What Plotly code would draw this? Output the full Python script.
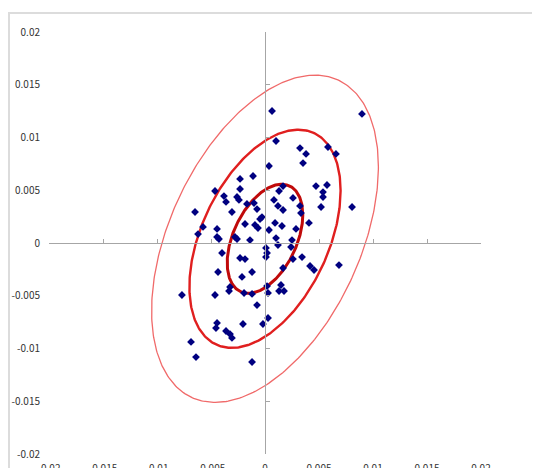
import numpy as np
import plotly.graph_objects as go

# ---- data ----
x_vals = [0.00065, 0.00898, 0.00102, 0.00324, 0.00380, 0.00583, 0.00657, 0.00352, 0.00037, -0.00111,
          -0.00231, -0.00231, -0.00463, -0.00380, -0.00259, -0.00241, -0.00361, -0.00167, -0.00102, -0.00074,
          -0.00648, -0.00306, -0.00028, -0.00046, -0.00185, -0.00093, -0.00065, -0.00574, -0.00444, -0.00620,
          -0.00444, -0.00426, -0.00278, -0.00259, -0.00139, 0.00037, -0.00398, -0.00231, -0.00185, 0.00009,
          0.00019, 0.00009, -0.00435, -0.00120, -0.00213, -0.00324, -0.00333, -0.00769, -0.00463, -0.00194,
          -0.00120, 0.00019, 0.00028, 0.00130, 0.00176, 0.00148, -0.00074, 0.00028, -0.00019, -0.00204,
          -0.00444, -0.00454, -0.00361, -0.00324, -0.00306, -0.00685, -0.00639, -0.00120, 0.00472, 0.00574,
          0.00537, 0.00537, 0.00167, 0.00130, 0.00259, 0.00083, 0.00120, 0.00167, 0.00324, 0.00333,
          0.00519, 0.00806, 0.00407, 0.00093, 0.00157, 0.00287, 0.00102, 0.00120, 0.00250, 0.00241,
          0.00259, 0.00343, 0.00167, 0.00417, 0.00454, 0.00685]
y_vals = [0.01251, 0.01223, 0.00967, 0.00900, 0.00844, 0.00910, 0.00844, 0.00758, 0.00730, 0.00635,
          0.00607, 0.00512, 0.00493, 0.00445, 0.00436, 0.00408, 0.00389, 0.00370, 0.00379, 0.00322,
          0.00294, 0.00294, 0.00246, 0.00227, 0.00180, 0.00171, 0.00142, 0.00152, 0.00133, 0.00085,
          0.00057, 0.00038, 0.00057, 0.00038, 0.00028, 0.00123, -0.00095, -0.00142, -0.00152, -0.00047,
          -0.00095, -0.00133, -0.00275, -0.00275, -0.00322, -0.00417, -0.00455, -0.00493, -0.00493, -0.00474,
          -0.00483, -0.00408, -0.00474, -0.00455, -0.00455, -0.00398, -0.00588, -0.00711, -0.00768, -0.00768,
          -0.00758, -0.00806, -0.00834, -0.00863, -0.00900, -0.00938, -0.01081, -0.01128, 0.00540, 0.00550,
          0.00483, 0.00436, 0.00540, 0.00493, 0.00427, 0.00408, 0.00351, 0.00313, 0.00351, 0.00284,
          0.00341, 0.00341, 0.00190, 0.00190, 0.00161, 0.00133, 0.00047, -0.00019, 0.00028, -0.00038,
          -0.00152, -0.00133, -0.00237, -0.00218, -0.00256, -0.00209]

# confidence ellipse parameters (1, 2, 3 sigma)
center_x = 0.0
center_y = 0.0004
sd_x = 0.00350
sd_y = 0.00517
rho = 0.44
levels = [3, 2, 1]
ellipse_colors = ["#f06a6a", "#e01f1f", "#c00a0a"]
ellipse_widths = [1.3, 2.4, 3.0]

tick_vals = [-0.02, -0.015, -0.01, -0.005, 0, 0.005, 0.01, 0.015, 0.02]
tick_text = ["-0.02", "-0.015", "-0.01", "-0.005", "0", "0.005", "0.01", "0.015", "0.02"]

# ---- build ellipses ----
cov = np.array([[sd_x ** 2, rho * sd_x * sd_y], [rho * sd_x * sd_y, sd_y ** 2]])
L = np.linalg.cholesky(cov)
t = np.linspace(0, 2 * np.pi, 361)
circle = np.vstack([np.cos(t), np.sin(t)])

fig = go.Figure()
for k, col, w in zip(levels, ellipse_colors, ellipse_widths):
    pts = k * (L @ circle)
    fig.add_trace(go.Scatter(x=pts[0] + center_x, y=pts[1] + center_y, mode="lines",
                             line=dict(color=col, width=w), showlegend=False, hoverinfo="skip"))

fig.add_trace(go.Scatter(x=x_vals, y=y_vals, mode="markers",
                         marker=dict(symbol="diamond", size=6, color="#000080"),
                         showlegend=False))

# dummy trace for the crossing axes
fig.add_trace(go.Scatter(x=[None], y=[None], xaxis="x2", yaxis="y2", showlegend=False, hoverinfo="skip"))

font = dict(family="Noto Sans CJK JP, Arial, sans-serif", size=10, color="#333333")
rng = [tick_vals[0], tick_vals[-1]]

# page body has an 8px margin; plot area should sit at x 49..481, y 32..454 on screen
L_M, T_M = 41, 24
PW, PH = 432, 422

fig.update_layout(
    width=540, height=468,
    margin=dict(l=L_M, r=540 - L_M - PW, t=T_M, b=468 - T_M - PH, autoexpand=False),
    paper_bgcolor="white", plot_bgcolor="white",
    font=font,
    xaxis=dict(range=rng, tickvals=tick_vals, ticktext=tick_text, showgrid=False, zeroline=False,
               showline=False, ticks="", ticklabelstandoff=7, automargin=False, fixedrange=True),
    yaxis=dict(range=rng, tickvals=tick_vals, ticktext=tick_text, showgrid=False, zeroline=False,
               showline=False, ticks="", ticklabelstandoff=8, automargin=False, fixedrange=True),
    xaxis2=dict(range=rng, overlaying="x", anchor="free", position=0.5, tickvals=tick_vals,
                showticklabels=False, showgrid=False, zeroline=False, showline=True,
                linecolor="#a6a6a6", linewidth=1.2, ticks="inside", ticklen=4, tickcolor="#a6a6a6",
                automargin=False, fixedrange=True),
    yaxis2=dict(range=rng, overlaying="y", anchor="free", position=0.5, tickvals=tick_vals,
                showticklabels=False, showgrid=False, zeroline=False, showline=True,
                linecolor="#a6a6a6", linewidth=1.2, ticks="inside", ticklen=4, tickcolor="#a6a6a6",
                automargin=False, fixedrange=True),
    shapes=[dict(type="rect", xref="paper", yref="paper",
                 x0=(1 - L_M) / PW, x1=1.3, y0=-0.2, y1=1 + (T_M - 5) / PH,
                 line=dict(color="#dcdcdc", width=2), layer="below")],
)

fig.write_html("out.html")
